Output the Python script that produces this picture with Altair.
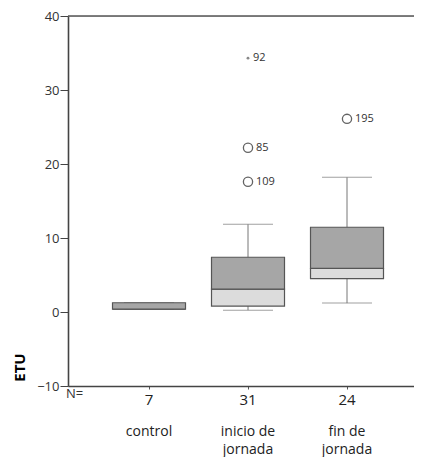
import altair as alt
import pandas as pd

categories = ["control", "inicio de jornada", "fin de jornada"]
line1 = ["control", "inicio de", "fin de"]
line2 = ["", "jornada", "jornada"]
n_values = ["7", "31", "24"]
q1 = [0.4, 0.8, 4.5]
median = [0.4, 3.1, 5.9]
q3 = [1.25, 7.4, 11.45]
whisk_lo = [0.4, 0.25, 1.2]
whisk_hi = [1.25, 11.85, 18.2]

out_cat = ["inicio de jornada", "inicio de jornada", "fin de jornada"]
out_val = [22.2, 17.6, 26.1]
out_lab = ["85", "109", "195"]
ext_cat = ["inicio de jornada"]
ext_val = [34.3]
ext_lab = ["92"]

FONT = "Open Sans"
W = 346

box = pd.DataFrame({"cat": categories, "q1": q1, "med": median, "q3": q3,
                    "lo": whisk_lo, "hi": whisk_hi, "n": n_values,
                    "l1": line1, "l2": line2})
outl = pd.DataFrame({"cat": out_cat, "v": out_val, "lab": out_lab})
ext = pd.DataFrame({"cat": ext_cat, "v": ext_val, "lab": ext_lab})

n_map = "{" + ",".join(f"'{c}':'{n}'" for c, n in zip(categories, n_values)) + "}"

xs = alt.Scale(domain=categories, paddingInner=0, paddingOuter=0.2475, align=0.643)
x = alt.X("cat:N", scale=xs, sort=categories,
          axis=alt.Axis(title=None, labelAngle=0, labelExpr=f"{n_map}[datum.value]",
                        labelFont=FONT, labelFontSize=15, labelColor="#222",
                        tickSize=3, tickColor="#555", domainColor="#444", domainWidth=1.6,
                        labelPadding=3))
ys = alt.Scale(domain=[-10, 40], nice=False, zero=False)

base = alt.Chart(box)

whisk_up = base.mark_rule(color="#777", strokeWidth=1).encode(
    x=x, y=alt.Y("q3:Q", scale=ys,
                 axis=alt.Axis(values=[-10, 0, 10, 20, 30, 40], tickSize=8, grid=False,
                               labelFont=FONT, labelFontSize=13, labelColor="#333",
                               tickColor="#444", domainColor="#444", domainWidth=1.6,
                               labelPadding=1, title="ETU", titleFont=FONT, titleFontSize=15,
                               titleFontWeight="bold", titleColor="#000", titleAngle=270,
                               titleX=-49, titleY=351, titleAlign="center",
                               titleBaseline="middle")),
    y2="hi:Q")
whisk_dn = base.mark_rule(color="#777", strokeWidth=1).encode(x=x, y=alt.Y("lo:Q", scale=ys), y2="q1:Q")
cap_hi = base.mark_tick(color="#777", size=50, thickness=1).encode(x=x, y=alt.Y("hi:Q", scale=ys))
cap_lo = base.mark_tick(color="#777", size=50, thickness=1).encode(x=x, y=alt.Y("lo:Q", scale=ys))

lower = base.mark_bar(width=73, color="#dcdcdc", stroke="#555", strokeWidth=1.2).encode(
    x=x, y=alt.Y("q1:Q", scale=ys), y2="med:Q")
upper = base.mark_bar(width=73, color="#a6a6a6", stroke="#555", strokeWidth=1.2).encode(
    x=x, y=alt.Y("med:Q", scale=ys), y2="q3:Q")

circles = alt.Chart(outl).mark_point(shape="circle", size=85, color="#222", strokeWidth=1.3,
                                     filled=False).encode(x=x, y=alt.Y("v:Q", scale=ys))
circ_lab = alt.Chart(outl).mark_text(align="left", baseline="middle", dx=8, font=FONT,
                                     fontSize=11, color="#333").encode(
    x=x, y=alt.Y("v:Q", scale=ys), text="lab:N")
stars = alt.Chart(ext).mark_point(shape="circle", size=8, filled=True, color="#555").encode(
    x=x, y=alt.Y("v:Q", scale=ys))
star_lab = alt.Chart(ext).mark_text(align="left", baseline="middle", dx=5, font=FONT,
                                    fontSize=11, color="#333").encode(
    x=x, y=alt.Y("v:Q", scale=ys), text="lab:N")

top_line = alt.Chart(pd.DataFrame({"v": [40]})).mark_rule(color="#555", strokeWidth=1.6).encode(
    y=alt.Y("v:Q", scale=ys), x=alt.value(0), x2=alt.value(W))

n_lab = alt.Chart(pd.DataFrame({"t": ["N="]})).mark_text(
    align="left", baseline="alphabetic", font=FONT, fontSize=13, color="#333").encode(
    x=alt.value(-2), y=alt.value(382), text="t:N")
cat1 = base.mark_text(baseline="alphabetic", font=FONT, fontSize=14, color="#222").encode(
    x=x, y=alt.value(420), text="l1:N")
cat2 = base.mark_text(baseline="alphabetic", font=FONT, fontSize=14, color="#222").encode(
    x=x, y=alt.value(438), text="l2:N")

chart = alt.layer(whisk_up, whisk_dn, cap_hi, cap_lo, lower, upper, circles, circ_lab,
                  stars, star_lab, top_line, n_lab, cat1, cat2).properties(
    width=W, height=370, autosize="none",
    padding={"left": 60, "top": 8, "right": 0, "bottom": 71},
).configure_view(stroke=None).configure(background="white")

chart.save("out.html", embed_options={"renderer": "svg", "actions": False})
